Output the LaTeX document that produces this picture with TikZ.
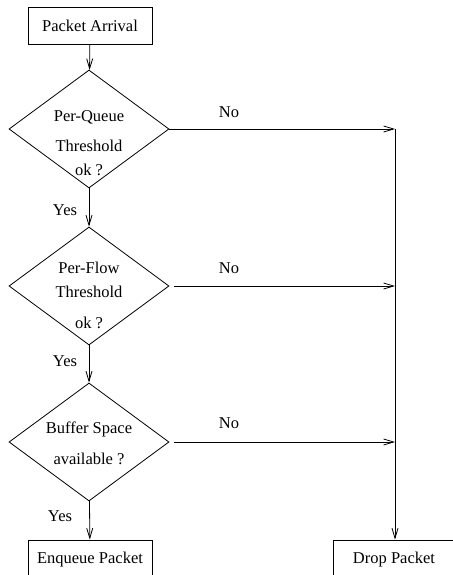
\documentclass[tikz,border=0pt]{standalone}
\usepackage{fontspec}
\setmainfont{Liberation Serif}
\usepackage{tikz}
\usetikzlibrary{positioning, shapes.geometric, arrows.meta, calc}

\begin{document}
\begin{tikzpicture}[x=1pt, y=-1pt,
  font=\fontsize{16.5}{19}\selectfont,
  box/.style={draw, rectangle, minimum width=124pt, minimum height=37pt, inner sep=0pt},
  test/.style={draw, diamond, minimum width=160pt, minimum height=118pt, inner sep=0pt},
  flow/.style={-{Straight Barb[length=10pt, width=6pt]}, line width=0.8pt},
  every path/.style={line width=0.8pt}]
  \useasboundingbox (0,0) rectangle (452,575);
  % boxes and tests
  \node[box] (arrival) at (90,26) {Packet Arrival};
  \node[test] (q1) at (89,129) {};
  \node[test] (q2) at (89,286) {};
  \node[test] (q3) at (89,442) {};
  \node[box, minimum height=40pt] (enqueue) at (90,560) {};
  \node[box, minimum width=122pt, minimum height=40pt] (drop) at (394,560) {};
  \node (enqueuet) at (90,560) {Enqueue Packet};
  \node (dropt) at (394,560) {Drop Packet};
  % texts inside the tests
  \node (q1a) at ($(q1)+(0,-12)$) {Per-Queue};
  \node (q1b) at ($(q1)+(0,17)$) {Threshold};
  \node (q1c) at ($(q1)+(0,41)$) {ok ?};
  \node (q2a) at ($(q2)+(0,-18)$) {Per-Flow};
  \node (q2b) at ($(q2)+(0,6)$) {Threshold};
  \node (q2c) at ($(q2)+(0,37)$) {ok ?};
  \node (q3a) at ($(q3)+(0,-13)$) {Buffer Space};
  \node (q3b) at ($(q3)+(0,17)$) {available ?};
  % merge points
  \coordinate (j1) at (395,129);
  \coordinate (j2) at (395,286);
  \coordinate (j3) at (395,442);
  % connectors
  \draw[flow] (arrival) -- (q1);
  \draw[flow] (q1) -- (q2);
  \draw[flow] (q2) -- (q3);
  \draw[flow] (q3) -- (enqueue);
  \draw[flow] (q1.east) -- (j1);
  \draw[flow, shorten <=5pt] (q2.east) -- (j2);
  \draw[flow, shorten <=5pt] (q3.east) -- (j3);
  \draw[flow] (j1) -- (drop.north -| j1);
  % labels
  \node (no1) at (229,112) {No};
  \node (no2) at (229,268) {No};
  \node (no3) at (229,423) {No};
  \node (yes1) at (65,210) {Yes};
  \node (yes2) at (65,361) {Yes};
  \node (yes3) at (60,516) {Yes};
\end{tikzpicture}
\end{document}
